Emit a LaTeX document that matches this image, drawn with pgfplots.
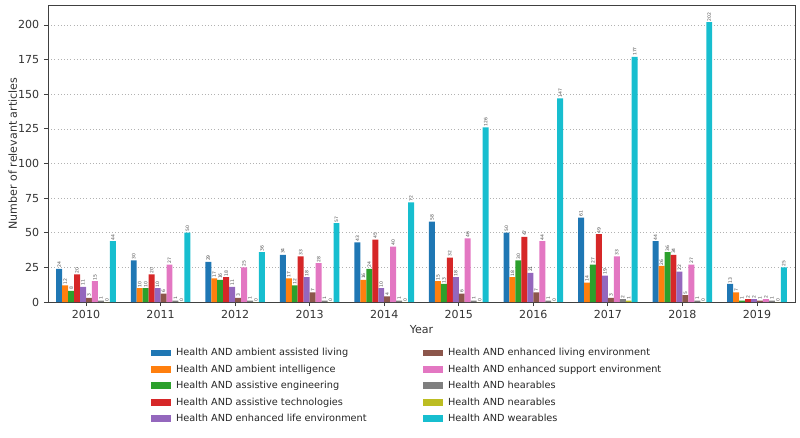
\documentclass[border=0pt]{standalone}
\usepackage{fontspec}
\setmainfont{DejaVu Sans}
\usepackage{pgfplots}
\usepackage{pgfplotstable}
\pgfplotsset{compat=1.18}

\definecolor{c0}{HTML}{1F77B4}
\definecolor{c1}{HTML}{FF7F0E}
\definecolor{c2}{HTML}{2CA02C}
\definecolor{c3}{HTML}{D62728}
\definecolor{c4}{HTML}{9467BD}
\definecolor{c5}{HTML}{8C564B}
\definecolor{c6}{HTML}{E377C2}
\definecolor{c7}{HTML}{7F7F7F}
\definecolor{c8}{HTML}{BCBD22}
\definecolor{c9}{HTML}{17BECF}

% articles per year and search query
\pgfplotstableread{
year aal ai  ae  at  ele elenv ese hear near wear
2010 24  12  8   20  11  3     15  1    0    44
2011 30  10  10  20  10  6     27  1    0    50
2012 29  17  16  18  11  3     25  1    0    36
2013 34  17  12  33  18  7     28  1    0    57
2014 43  16  24  45  10  4     40  1    0    72
2015 58  15  13  32  18  6     46  1    0    126
2016 50  18  30  47  21  7     44  1    0    147
2017 61  14  27  49  19  3     33  2    1    177
2018 44  26  36  34  22  5     27  1    0    202
2019 13  7   1   2   2   1     2   1    0    25
}\articles

\begin{document}
\begin{tikzpicture}
\useasboundingbox (0,0) rectangle (600pt,327.75pt);
\begin{axis}[
  at={(36pt,101.25pt)}, anchor=south west,
  scale only axis,
  width=560.25pt, height=222.75pt,
  ybar=0pt, bar width=0.08,
  xmin=-0.51, xmax=9.51,
  ymin=0, ymax=214.4,
  xtick={0,...,9},
  xticklabels={2010,2011,2012,2013,2014,2015,2016,2017,2018,2019},
  ytick={0,25,...,200},
  tick align=outside,
  tick pos=left,
  major tick length=3pt,
  tick style={color=black!75, line width=0.6pt},
  axis line style={color=black!75, line width=0.6pt},
  ymajorgrids=true,
  grid style={dotted, color=black!30, line width=0.5pt},
  /pgf/number format/assume math mode=true,
  tick label style={font=\fontsize{8.3}{10}\selectfont, text=black!80},
  label style={font=\fontsize{8.3}{10}\selectfont, text=black!80},
  xlabel={Year},
  ylabel={Number of relevant articles},
  xlabel style={yshift=2pt},
  ylabel style={yshift=-6pt},
  nodes near coords,
  every node near coord/.append style={rotate=90, anchor=west,
    font=\fontsize{3.4}{3.4}\selectfont, text=black!70, inner sep=0.5pt},
  legend style={at={(0.481,-0.137)}, anchor=north, draw=none,
    legend columns=5, transpose legend,
    cells={anchor=west},
    font=\fontsize{7.3}{9}\selectfont, text=black!85,
    /tikz/every odd column/.append style={column sep=2pt},
    /tikz/every even column/.append style={column sep=40pt},
    row sep=1.3pt},
  area legend,
  legend image code/.code={
    \draw[#1, draw=none] (0cm,-0.09cm) rectangle (0.53cm,0.09cm);},
]
\addplot[fill=c0, draw=none] table[x expr=\coordindex, y=aal] {\articles};
\addplot[fill=c1, draw=none] table[x expr=\coordindex, y=ai] {\articles};
\addplot[fill=c2, draw=none] table[x expr=\coordindex, y=ae] {\articles};
\addplot[fill=c3, draw=none] table[x expr=\coordindex, y=at] {\articles};
\addplot[fill=c4, draw=none] table[x expr=\coordindex, y=ele] {\articles};
\addplot[fill=c5, draw=none] table[x expr=\coordindex, y=elenv] {\articles};
\addplot[fill=c6, draw=none] table[x expr=\coordindex, y=ese] {\articles};
\addplot[fill=c7, draw=none] table[x expr=\coordindex, y=hear] {\articles};
\addplot[fill=c8, draw=none] table[x expr=\coordindex, y=near] {\articles};
\addplot[fill=c9, draw=none] table[x expr=\coordindex, y=wear] {\articles};
\legend{Health AND ambient assisted living,
  Health AND ambient intelligence,
  Health AND assistive engineering,
  Health AND assistive technologies,
  Health AND enhanced life environment,
  Health AND enhanced living environment,
  Health AND enhanced support environment,
  Health AND hearables,
  Health AND nearables,
  Health AND wearables}
\end{axis}
\end{tikzpicture}
\end{document}
